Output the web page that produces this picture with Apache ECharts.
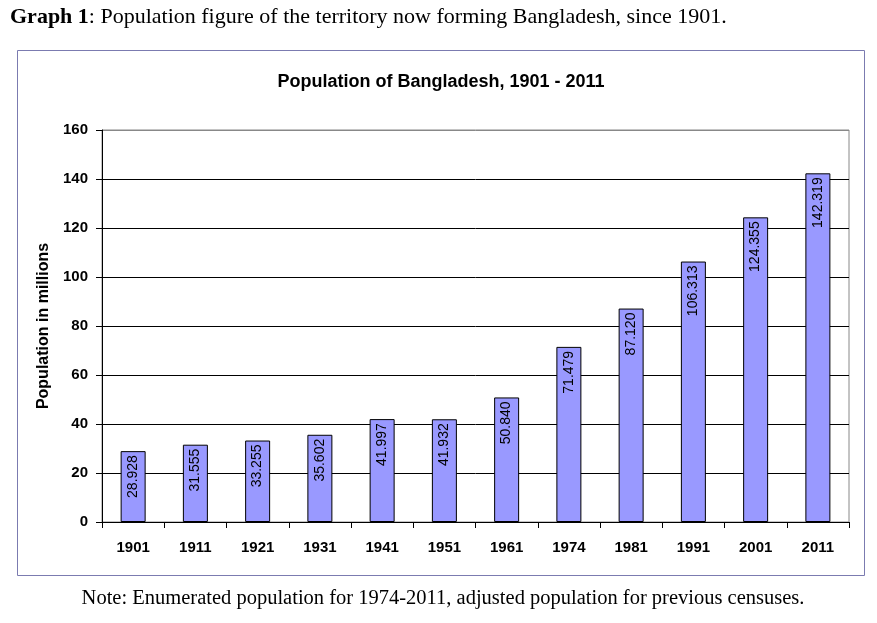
<!DOCTYPE html>
<html lang="en">
<head>
<meta charset="UTF-8">
<title>Population of Bangladesh, 1901 - 2011</title>
<script src="https://cdn.jsdelivr.net/npm/echarts@6/dist/echarts.min.js"></script>
<style>
    html, body {
        margin: 0;
        padding: 0;
        background: #fff;
    }
    #chart {
        width: 877px;
        height: 623px;
    }
</style>
</head>
<body>

<div id="chart"></div>

<script>
// census years and population (millions)
var years = ['1901', '1911', '1921', '1931', '1941', '1951', '1961', '1974', '1981', '1991', '2001', '2011'];
var population = [28.928, 31.555, 33.255, 35.602, 41.997, 41.932, 50.840, 71.479, 87.120, 106.313, 124.355, 142.319];
var valueLabels = ['28.928', '31.555', '33.255', '35.602', '41.997', '41.932', '50.840', '71.479', '87.120', '106.313', '124.355', '142.319'];

var chartDom = document.getElementById('chart');
var myChart = echarts.init(chartDom, null, { renderer: 'canvas' });

var sans = 'Liberation Sans, Arial, sans-serif';
var serif = 'Liberation Serif, Times New Roman, serif';

var option = {
    backgroundColor: '#fff',
    animation: false,
    title: [
        {
            text: '{b|Graph 1}: Population figure of the territory now forming Bangladesh, since 1901.',
            left: 10,
            top: 6,
            padding: 0,
            textStyle: {
                fontFamily: serif,
                fontSize: 22,
                fontWeight: 'normal',
                color: '#000',
                rich: {
                    b: { fontFamily: serif, fontSize: 22, fontWeight: 'bold', color: '#000' }
                }
            }
        },
        {
            text: 'Population of Bangladesh, 1901 - 2011',
            left: 441,
            textAlign: 'center',
            top: 73,
            padding: 0,
            textStyle: { fontFamily: sans, fontSize: 18, fontWeight: 'bold', color: '#000' }
        },
        {
            text: 'Note: Enumerated population for 1974-2011, adjusted population for previous censuses.',
            left: 443,
            textAlign: 'center',
            top: 588,
            padding: 0,
            textStyle: { fontFamily: serif, fontSize: 20.5, fontWeight: 'normal', color: '#000' }
        }
    ],
    graphic: [
        {
            type: 'rect',
            silent: true,
            z: -10,
            shape: { x: 17.5, y: 50.5, width: 847, height: 525 },
            style: { fill: 'none', stroke: '#7b7bb0', lineWidth: 1 }
        }
    ],
    grid: {
        left: 102,
        right: 28,
        top: 130,
        bottom: 101,
        show: true,
        borderColor: '#888',
        borderWidth: 1,
        containLabel: false
    },
    xAxis: {
        type: 'category',
        data: years,
        axisLine: { show: true, lineStyle: { color: '#000', width: 1 } },
        axisTick: { show: true, alignWithLabel: false, inside: false, length: 6, lineStyle: { color: '#000' } },
        axisLabel: { margin: 18, fontFamily: sans, fontSize: 15, fontWeight: 'bold', color: '#000' },
        splitLine: { show: false }
    },
    yAxis: {
        type: 'value',
        min: 0,
        max: 160,
        interval: 20,
        name: 'Population in millions',
        nameLocation: 'middle',
        nameGap: 44,
        nameRotate: 90,
        nameTextStyle: { fontFamily: sans, fontSize: 16, fontWeight: 'bold', color: '#000' },
        axisLine: { show: true, lineStyle: { color: '#000', width: 1 } },
        axisTick: { show: true, inside: false, length: 6, lineStyle: { color: '#000' } },
        axisLabel: { margin: 14, fontFamily: sans, fontSize: 15, fontWeight: 'bold', color: '#000' },
        splitLine: {
            show: true,
            lineStyle: {
                color: ['#000', '#000', '#000', '#000', '#000', '#000', '#000', '#000', '#888'],
                width: 1
            }
        }
    },
    series: [
        {
            type: 'bar',
            data: population,
            barWidth: 25,
            itemStyle: { color: '#9999ff', borderColor: '#000', borderWidth: 1 },
            label: {
                show: true,
                position: 'insideTop',
                distance: 4,
                rotate: 90,
                align: 'right',
                verticalAlign: 'middle',
                fontFamily: sans,
                fontSize: 14,
                color: '#000',
                formatter: function (p) { return valueLabels[p.dataIndex]; }
            }
        }
    ]
};

myChart.setOption(option);
</script>

</body>
</html>
